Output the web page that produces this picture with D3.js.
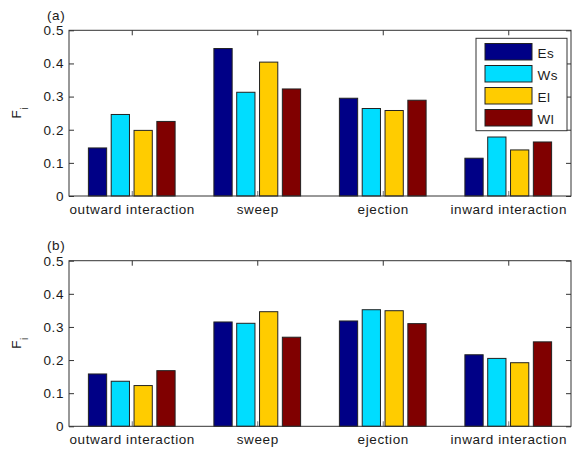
<!DOCTYPE html>
<html><head><meta charset="utf-8">
<script src="https://cdn.jsdelivr.net/npm/d3@7"></script>
<style>
html,body{margin:0;padding:0;background:#fff;}
svg text{font-family:"Liberation Sans",Arial,sans-serif;font-size:13.5px;letter-spacing:0.6px;fill:#1a1a1a;}
</style></head>
<body><svg id="chart" width="576" height="451"></svg>
<script>
const categories = ["outward interaction", "sweep", "ejection", "inward interaction"];
const seriesNames = ["Es", "Ws", "El", "Wl"];
const seriesColors = ["#000086", "#00DDFF", "#FFCC00", "#800000"];
const yTicks = [0, 0.1, 0.2, 0.3, 0.4, 0.5];
const yTickLabels = ["0", "0.1", "0.2", "0.3", "0.4", "0.5"];

// panel (a)
const aEs = [0.145, 0.445, 0.295, 0.114];
const aWs = [0.246, 0.313, 0.264, 0.178];
const aEl = [0.198, 0.404, 0.258, 0.139];
const aWl = [0.225, 0.323, 0.289, 0.163];
// panel (b)
const bEs = [0.158, 0.315, 0.318, 0.216];
const bWs = [0.136, 0.311, 0.352, 0.205];
const bEl = [0.123, 0.346, 0.349, 0.192];
const bWl = [0.168, 0.269, 0.310, 0.255];

const panels = [
  {label: "(a)", top: 30.3, bottom: 196, values: [aEs, aWs, aEl, aWl], legend: true},
  {label: "(b)", top: 260.7, bottom: 426.3, values: [bEs, bWs, bEl, bWl], legend: false}
];

const svg = d3.select("#chart");
const left = 69, right = 571;
const axisColor = "#333";

const gw = 4 / (4 + 1.5); // grouped bar width fraction
const x = d3.scaleBand().domain(categories).range([left, right])
  .paddingInner(1 - gw).paddingOuter((1 - gw) / 2);
const xs = d3.scaleBand().domain(seriesNames).range([0, x.bandwidth()])
  .paddingInner(0.2).paddingOuter(0.1);

panels.forEach(p => {
  const y = d3.scaleLinear().domain([0, 0.5]).range([p.bottom, p.top]);
  const g = svg.append("g");

  const styleAxis = sel => {
    sel.select(".domain").remove();
    sel.selectAll("line").attr("stroke", axisColor);
  };

  g.append("g").attr("transform", `translate(${left},0)`)
    .call(d3.axisLeft(y).tickValues(yTicks).tickFormat((d, i) => yTickLabels[i])
      .tickSizeInner(-5).tickSizeOuter(0).tickPadding(5))
    .call(styleAxis)
    .call(s => s.selectAll("text").attr("font-family", null).attr("font-size", null).attr("fill", null));
  g.append("g").attr("transform", `translate(${right},0)`)
    .call(d3.axisRight(y).tickValues(yTicks).tickFormat("").tickSizeInner(-5).tickSizeOuter(0))
    .call(styleAxis);
  const xc = d3.scalePoint().domain(categories).range([left + x.step() / 2, right - x.step() / 2]);
  g.append("g").attr("transform", `translate(0,${p.top})`)
    .call(d3.axisTop(xc).tickFormat("").tickSizeInner(-5).tickSizeOuter(0))
    .call(styleAxis);
  g.append("g").attr("transform", `translate(0,${p.bottom})`)
    .call(d3.axisBottom(xc).tickSizeInner(-5).tickSizeOuter(0).tickPadding(8))
    .call(styleAxis)
    .call(s => s.selectAll("line").attr("stroke", "#777"))
    .call(s => s.selectAll("text").attr("font-family", null).attr("font-size", null).attr("fill", null));

  // bars
  const bars = g.append("g");
  p.values.forEach((vals, si) => {
    bars.selectAll(null).data(vals).enter().append("rect")
      .attr("x", (d, i) => x(categories[i]) + xs(seriesNames[si]))
      .attr("width", xs.bandwidth())
      .attr("y", d => y(d))
      .attr("height", d => y(0) - y(d))
      .attr("fill", seriesColors[si])
      .attr("stroke", "#222").attr("stroke-width", 1);
  });

  // box
  g.append("rect").attr("x", left).attr("y", p.top)
    .attr("width", right - left).attr("height", p.bottom - p.top)
    .attr("fill", "none").attr("stroke", axisColor).attr("stroke-width", 1);

  // panel label
  g.append("text").attr("x", 47).attr("y", p.top - 10.5).text(p.label);

  // y label
  const yl = g.append("text")
    .attr("transform", `translate(21,${(p.top + p.bottom) / 2 - 0.5}) rotate(-90)`)
    .attr("text-anchor", "middle");
  yl.append("tspan").text("F");
  yl.append("tspan").attr("dy", 7).style("font-size", "10px").text("i");

  if (p.legend) {
    const lg = g.append("g");
    lg.append("rect").attr("x", 476).attr("y", 38.3).attr("width", 91).attr("height", 92.4)
      .attr("fill", "#fff").attr("stroke", axisColor);
    seriesNames.forEach((s, i) => {
      const yy = 43.5 + i * 22;
      lg.append("rect").attr("x", 485).attr("y", yy).attr("width", 47).attr("height", 16.5)
        .attr("fill", seriesColors[i]).attr("stroke", "#222");
      lg.append("text").attr("x", 537.5).attr("y", yy + 14.5).text(s);
    });
  }
});
</script></body></html>
